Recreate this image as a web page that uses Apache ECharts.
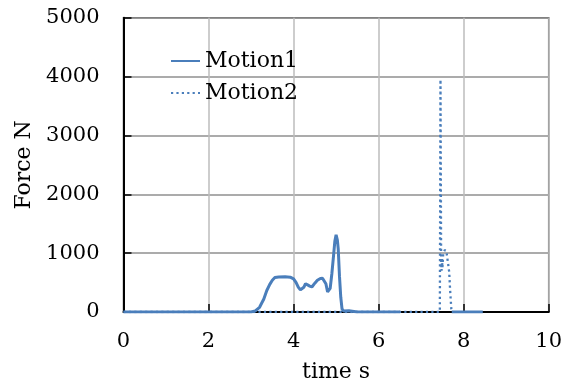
<!DOCTYPE html>
<html>
<head>
<meta charset="utf-8">
<script src="https://cdn.jsdelivr.net/npm/echarts@6/dist/echarts.min.js"></script>
<style>html,body{margin:0;padding:0;background:#fff}#c{width:572px;height:388px}</style>
</head>
<body>
<div id="c"></div>
<script>
var seriesNames = ['Motion1', 'Motion2'];
var xTicks = [0, 2, 4, 6, 8, 10];
var yTicks = [0, 1000, 2000, 3000, 4000, 5000];
var motion1 = [
  [0,0],[1,0],[2,0],[3.0,0],[3.1,20],[3.2,80],[3.3,220],[3.37,365],[3.44,470],[3.5,540],[3.56,585],
  [3.65,595],[3.8,600],[3.92,592],[4.0,563],[4.06,500],[4.11,423],[4.16,375],[4.2,370],[4.24,420],
  [4.28,480],[4.33,460],[4.38,440],[4.43,425],[4.5,490],[4.56,540],[4.63,570],[4.68,575],[4.72,555],
  [4.76,480],[4.8,340],[4.83,310],[4.86,400],[4.9,650],[4.94,958],[4.97,1200],[5.0,1310],[5.03,1220],
  [5.05,1071],[5.08,600],[5.11,250],[5.14,50],[5.18,15],[5.3,20],[5.5,0],[6.5,0],
  null,
  [7.72,0],[8.45,0]
];
var motion2 = [
  [0,0],[3,0],[5,0],[7.44,0],[7.455,3950],[7.47,900],[7.48,700],[7.49,900],[7.5,750],[7.52,1000],
  [7.56,1055],[7.6,1000],[7.63,990],[7.66,680],[7.68,390],[7.71,50],[7.73,0]
];

var FONT = 'DejaVu Serif';
var BLUE = '#4a7ebb';
var chart = echarts.init(document.getElementById('c'));
chart.setOption({
  animation: false,
  backgroundColor: '#fff',
  grid: { left: 123.5, right: 23.3, top: 17.7, bottom: 74.7, show: true, borderColor: '#595959', borderWidth: 1.5, backgroundColor: 'transparent' },
  legend: {
    data: seriesNames,
    orient: 'vertical',
    left: 165, top: 45,
    itemWidth: 29, itemHeight: 14, itemGap: 10,
    itemStyle: { opacity: 0, borderWidth: 0 },
    textStyle: { fontFamily: FONT, fontSize: 22, color: '#000', lineHeight: 22 }
  },
  xAxis: {
    type: 'value', min: xTicks[0], max: xTicks[xTicks.length-1], interval: 2,
    name: 'time s', nameLocation: 'middle', nameGap: 49,
    nameTextStyle: { fontFamily: FONT, fontSize: 22, color: '#000' },
    axisLine: { show: true, onZero: false, lineStyle: { color: '#000', width: 2 } },
    axisTick: { show: true, inside: true, length: 8, lineStyle: { color: '#000', width: 1.5 } },
    axisLabel: { margin: 19, fontFamily: FONT, fontSize: 21, color: '#000', formatter: function (v) { return String(v); } },
    splitLine: { show: true, lineStyle: { color: '#bdbdbd', width: 1.5 } }
  },
  yAxis: {
    type: 'value', min: yTicks[0], max: yTicks[yTicks.length-1], interval: 1000,
    name: 'Force N', nameLocation: 'middle', nameGap: 84,
    nameTextStyle: { fontFamily: FONT, fontSize: 22, color: '#000' },
    axisLine: { show: true, onZero: false, lineStyle: { color: '#000', width: 2 } },
    axisTick: { show: true, inside: true, length: 8, lineStyle: { color: '#000', width: 1.5 } },
    axisLabel: { margin: 24, fontFamily: FONT, fontSize: 21, color: '#000', formatter: function (v) { return String(v); } },
    splitLine: { show: true, lineStyle: { color: '#8f8f8f', width: 1.5 } }
  },
  series: [
    { name: seriesNames[1], type: 'line', data: motion2, symbol: 'none', connectNulls: false, z: 3,
      lineStyle: { color: BLUE, width: 2.3, type: [2.2, 3.2] }, itemStyle: { color: BLUE } },
    { name: seriesNames[0], type: 'line', data: motion1, symbol: 'none', connectNulls: false, z: 4,
      lineStyle: { color: BLUE, width: 3, type: 'solid' }, itemStyle: { color: BLUE } }
  ]
});
</script>
</body>
</html>
